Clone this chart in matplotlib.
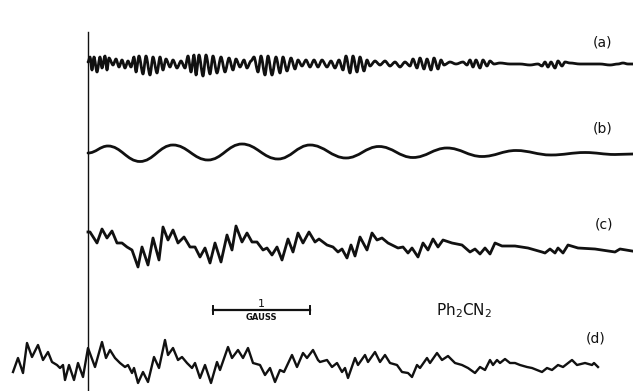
import matplotlib
matplotlib.use("Agg")
import matplotlib.pyplot as plt
from matplotlib.path import Path
from matplotlib.patches import PathPatch

# traces (x, y in picture units, y grows downward)
a_x = [88, 90, 92, 94, 97, 100, 102, 105, 107, 109,
       113, 116, 119, 122, 125, 128, 131,
       134, 136, 139, 143, 146, 150, 153, 157, 160, 163, 166,
       170, 173, 177, 181, 185,
       188, 191, 194, 196, 199, 203, 206, 210, 213, 217, 221, 225, 229, 233, 236,
       240, 244, 247, 251,
       254, 258, 261, 265, 268, 272, 276, 280, 283, 287, 291, 295, 298,
       302, 306, 310, 314, 318, 322, 327, 331, 335, 339,
       343, 346, 350, 353, 357, 360, 364, 367, 370,
       375, 380, 385, 390, 395, 400, 405, 410,
       413, 417, 420, 424, 427, 431, 434, 438, 441, 444,
       450, 456, 463,
       467, 470, 473, 476, 480, 483, 487, 490, 494,
       500, 510, 520, 530, 538,
       542, 545, 548, 551, 555, 558, 562, 565,
       570, 580, 590, 600, 610, 618, 623, 628, 633]
a_y = [62, 57, 70, 57, 72, 57, 68, 56, 70, 58,
       65, 59, 67, 60, 68, 61, 67,
       57, 72, 56, 74, 56, 75, 57, 73, 57, 70, 59,
       67, 60, 68, 61, 68,
       56, 72, 55, 75, 55, 76, 55, 74, 56, 73, 57, 72, 58, 70, 59,
       67, 60, 68, 61,
       57, 72, 56, 75, 56, 75, 57, 73, 57, 71, 58, 69, 60,
       66, 60, 67, 60, 67, 60, 67, 61, 68, 60,
       70, 56, 73, 56, 72, 57, 71, 60, 66,
       61, 65, 61, 66, 62, 67, 62, 66,
       59, 68, 58, 69, 59, 70, 58, 69, 60, 65,
       62, 64, 62,
       65, 60, 67, 60, 68, 60, 66, 61, 64,
       63, 64, 64, 65, 64,
       66, 62, 67, 62, 68, 61, 66, 62,
       63, 64, 64, 64, 65, 64, 63, 64, 64]

b_x = [88, 108, 140, 173, 208, 242, 278, 310, 346, 379,
       413, 447, 482, 516, 551, 585, 615, 633]
b_y = [153, 146, 161.5, 145, 160, 144, 159, 145, 158, 146.5,
       157.5, 148, 156.5, 150.5, 155, 152.5, 154.5, 154]

c_x = [88, 90, 97, 102, 107, 112, 117, 122, 127, 132, 138, 142, 148, 153,
       159, 163, 168, 173, 178, 184, 190, 195, 200, 205, 210, 215, 221, 227,
       232, 236, 242, 247, 252, 257, 263, 267, 272, 277, 282, 288, 293, 298,
       303, 309, 315, 319, 327, 333, 338, 342, 347, 351, 355, 360, 367, 372,
       377, 382, 388, 398, 403, 408, 412, 418, 423, 428, 433, 438, 443, 452,
       462, 470, 475, 480, 485, 490, 495, 502, 507, 515, 528, 542, 545, 550,
       555, 558, 563, 568, 578, 595, 615, 620, 632]
c_y = [232, 232, 243, 229, 238, 231, 243, 243, 247, 250, 267, 247, 265, 238,
       260, 227, 240, 230, 243, 237, 247, 247, 257, 248, 263, 243, 262, 235,
       250, 226, 242, 233, 242, 242, 250, 248, 255, 247, 260, 239, 252, 233,
       243, 232, 242, 239, 245, 247, 252, 249, 258, 245, 256, 237, 250, 233,
       240, 238, 243, 248, 247, 253, 248, 257, 243, 250, 239, 247, 240, 243,
       245, 252, 249, 254, 248, 254, 243, 246, 246, 246, 248, 252, 253, 249,
       253, 248, 253, 245, 248, 249, 252, 249, 251]

d_x = [13, 18, 23, 27, 32, 38, 43, 48, 52, 57, 60, 63, 65, 69, 74, 78, 83,
       88, 95, 102, 106, 110, 115, 120, 125, 128, 132, 134, 138, 143, 148,
       154, 159, 165, 168, 173, 178, 182, 187, 192, 195, 200, 205, 211, 217,
       220, 228, 232, 238, 243, 248, 253, 260, 265, 270, 275, 280, 284, 292,
       297, 303, 307, 313, 318, 320, 327, 332, 337, 342, 345, 348, 355, 358,
       365, 368, 375, 380, 385, 390, 397, 402, 408, 412, 417, 420, 427, 430,
       437, 442, 448, 455, 462, 468, 475, 480, 485, 490, 493, 497, 500, 505,
       510, 515, 520, 527, 532, 542, 547, 552, 558, 563, 572, 577, 585, 592,
       594, 598]
d_y = [372, 358, 373, 343, 357, 345, 360, 352, 362, 365, 368, 365, 380, 365,
       380, 363, 377, 348, 367, 342, 358, 350, 358, 363, 367, 365, 373, 368,
       383, 372, 382, 357, 368, 340, 355, 348, 360, 357, 363, 368, 363, 378,
       365, 383, 362, 370, 347, 358, 350, 358, 348, 363, 365, 375, 368, 382,
       370, 372, 355, 367, 353, 358, 350, 360, 362, 360, 367, 363, 372, 368,
       378, 358, 365, 355, 362, 352, 362, 355, 363, 365, 372, 373, 377, 365,
       368, 358, 363, 353, 360, 356, 363, 365, 368, 373, 367, 370, 360, 365,
       360, 363, 359, 363, 363, 365, 367, 368, 372, 368, 370, 365, 367, 360,
       365, 363, 365, 363, 367]

scale_bar = (213, 310)   # one gauss
labels = ["(a)", "(b)", "(c)", "(d)"]
label_pos = [(603, 42), (603, 129), (604, 225), (596, 338)]


def smooth_path(xs, ys, k=0.4):
    verts = [(xs[0], ys[0])]
    codes = [Path.MOVETO]
    for i in range(1, len(xs)):
        dx = xs[i] - xs[i - 1]
        verts += [(xs[i - 1] + k * dx, ys[i - 1]), (xs[i] - k * dx, ys[i]), (xs[i], ys[i])]
        codes += [Path.CURVE4] * 3
    return Path(verts, codes)


fig = plt.figure(figsize=(6.33, 3.91), dpi=100)
ax = fig.add_axes([0, 0, 1, 1])
ax.set_xlim(0, 633)
ax.set_ylim(391, 0)
ax.axis("off")

ink = "#111111"
ax.plot([88, 88], [32, 391], color=ink, lw=1.0)

ax.add_patch(PathPatch(smooth_path(a_x, a_y, 0.3), fill=False, ec=ink, lw=2.0,
                       joinstyle="round", capstyle="round"))
ax.add_patch(PathPatch(smooth_path(b_x, b_y), fill=False, ec=ink, lw=2.0,
                       joinstyle="round", capstyle="round"))
ax.plot(c_x, c_y, color=ink, lw=2.0, solid_joinstyle="round")
ax.plot(d_x, d_y, color=ink, lw=1.7, solid_joinstyle="round")

for lab, (x, y) in zip(labels, label_pos):
    ax.text(x, y, lab, fontsize=10, ha="center", va="center", color=ink)

# scale bar
x0, x1 = scale_bar
ax.plot([x0, x1], [310, 310], color=ink, lw=1.6)
ax.plot([x0, x0], [306, 314], color=ink, lw=1.4)
ax.plot([x1, x1], [306, 314], color=ink, lw=1.4)
ax.text((x0 + x1) / 2, 309, "1", fontsize=8, ha="center", va="bottom", color=ink)
ax.text((x0 + x1) / 2, 313, "GAUSS", fontsize=6, fontweight="bold", ha="center", va="top", color=ink)
ax.text(464, 311, r"Ph$_2$CN$_2$", fontsize=11, ha="center", va="center", color=ink)

fig.savefig("out.png", dpi=100)
